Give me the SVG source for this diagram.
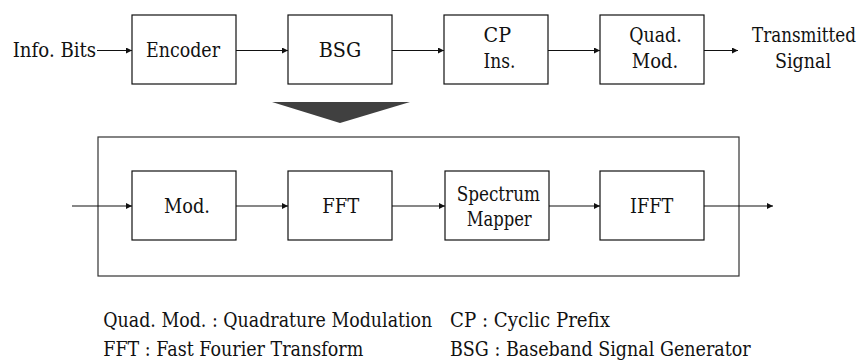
<svg xmlns="http://www.w3.org/2000/svg" width="860" height="360" viewBox="0 0 860 360">
  <style>
    .box { fill: #ffffff; stroke: #111111; stroke-width: 1.2; }
    .frame { fill: none; stroke: #333333; stroke-width: 1.2; }
    .wire { fill: none; stroke: #111111; stroke-width: 1.1; marker-end: url(#arrow); }
    .c { text-anchor: middle; }
    .t { font-family: "DejaVu Serif", serif; font-size: 20px; fill: #111111; }
  </style>
  <defs>
    <marker id="arrow" viewBox="0 0 10 10" refX="10" refY="5" markerWidth="9" markerHeight="6" markerUnits="userSpaceOnUse" orient="auto">
      <path d="M0,0 L10,5 L0,10 z" fill="#111111"/>
    </marker>
  </defs>

  <rect width="860" height="360" fill="#ffffff"/>

  <!-- transmitter chain -->
  <text class="t" x="12.7" y="57" textLength="83.5" lengthAdjust="spacingAndGlyphs">Info. Bits</text>
  <g id="encoder">
    <rect class="box" x="132" y="15" width="104" height="69"/>
    <text class="t c" x="183" y="57" textLength="74" lengthAdjust="spacingAndGlyphs">Encoder</text>
  </g>
  <g id="bsg">
    <rect class="box" x="288" y="15" width="104" height="69"/>
    <text class="t c" x="340" y="57" textLength="42.5" lengthAdjust="spacingAndGlyphs">BSG</text>
  </g>
  <g id="cp-ins">
    <rect class="box" x="444" y="15" width="104" height="69"/>
    <text class="t" x="483.5" y="42" textLength="27.5" lengthAdjust="spacingAndGlyphs">CP</text>
    <text class="t" x="483.5" y="68" textLength="32" lengthAdjust="spacingAndGlyphs">Ins.</text>
  </g>
  <g id="quad-mod">
    <rect class="box" x="600" y="15" width="104" height="69"/>
    <text class="t c" x="655.5" y="42" textLength="52.5" lengthAdjust="spacingAndGlyphs">Quad.</text>
    <text class="t c" x="655" y="68" textLength="46.5" lengthAdjust="spacingAndGlyphs">Mod.</text>
  </g>
  <text class="t c" x="804" y="42" textLength="104" lengthAdjust="spacingAndGlyphs">Transmitted</text>
  <text class="t c" x="803" y="68" textLength="56" lengthAdjust="spacingAndGlyphs">Signal</text>

  <!-- expansion marker -->
  <polygon points="272,102 410,102 340,123" fill="#404040"/>

  <!-- BSG internals -->
  <rect id="bsg-detail" class="frame" x="98" y="137" width="641" height="139"/>
  <g id="mod">
    <rect class="box" x="132" y="171" width="104" height="69"/>
    <text class="t c" x="187" y="213" textLength="46" lengthAdjust="spacingAndGlyphs">Mod.</text>
  </g>
  <g id="fft">
    <rect class="box" x="288" y="171" width="104" height="69"/>
    <text class="t c" x="340.8" y="213" textLength="37" lengthAdjust="spacingAndGlyphs">FFT</text>
  </g>
  <g id="spectrum-mapper">
    <rect class="box" x="445" y="171" width="104" height="69"/>
    <text class="t c" x="498.3" y="200.7" textLength="83.3" lengthAdjust="spacingAndGlyphs">Spectrum</text>
    <text class="t c" x="499.2" y="225.7" textLength="65" lengthAdjust="spacingAndGlyphs">Mapper</text>
  </g>
  <g id="ifft">
    <rect class="box" x="600" y="171" width="104" height="69"/>
    <text class="t c" x="651.7" y="213" textLength="43.3" lengthAdjust="spacingAndGlyphs">IFFT</text>
  </g>

  <g id="connectors">
    <line class="wire" x1="97" y1="50.5" x2="132" y2="50.5"/>
    <line class="wire" x1="236" y1="50.5" x2="288" y2="50.5"/>
    <line class="wire" x1="392" y1="50.5" x2="444" y2="50.5"/>
    <line class="wire" x1="548" y1="50.5" x2="600" y2="50.5"/>
    <line class="wire" x1="704" y1="50.5" x2="738" y2="50.5"/>
    <line class="wire" x1="72" y1="206" x2="132" y2="206"/>
    <line class="wire" x1="236" y1="206" x2="288" y2="206"/>
    <line class="wire" x1="392" y1="206" x2="445" y2="206"/>
    <line class="wire" x1="549" y1="206" x2="600" y2="206"/>
    <line class="wire" x1="704" y1="206" x2="773" y2="206"/>
  </g>

  <!-- abbreviations -->
  <text class="t" x="103.3" y="327" textLength="329" lengthAdjust="spacingAndGlyphs">Quad. Mod. : Quadrature Modulation</text>
  <text class="t" x="450" y="327" textLength="160" lengthAdjust="spacingAndGlyphs">CP : Cyclic Prefix</text>
  <text class="t" x="103.3" y="355.5" textLength="260" lengthAdjust="spacingAndGlyphs">FFT : Fast Fourier Transform</text>
  <text class="t" x="450" y="355.5" textLength="300.7" lengthAdjust="spacingAndGlyphs">BSG : Baseband Signal Generator</text>
</svg>
